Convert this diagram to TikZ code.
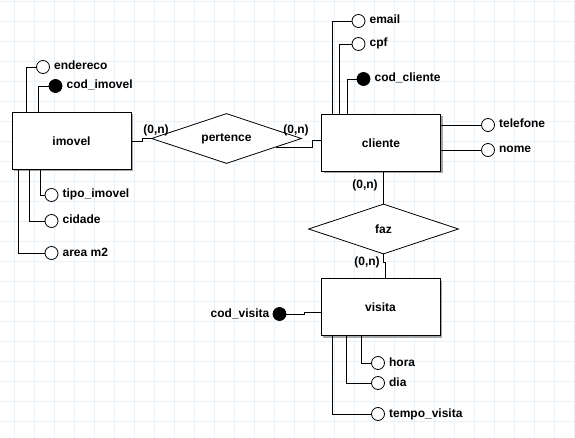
\documentclass[tikz,border=0pt]{standalone}
\usepackage{fontspec}
\setmainfont{Liberation Sans}
\usetikzlibrary{shapes.geometric,shadows,positioning}
\definecolor{gridblue}{RGB}{233,242,251}
\begin{document}
\begin{tikzpicture}[x=1pt,y=-1pt,
    every node/.style={font=\fontsize{12}{14}\selectfont\bfseries},
    entity/.style={rectangle,draw=black,line width=1pt,fill=white,minimum width=119pt,minimum height=57pt,
                   drop shadow={shadow xshift=2pt,shadow yshift=-2pt,fill=gray!70,opacity=1}},
    rel/.style={diamond,draw=black,line width=0.8pt,fill=white,aspect=3,inner sep=0pt,minimum width=150pt,minimum height=50pt},
    attr/.style={circle,draw=black,line width=0.8pt,fill=white,minimum size=13pt,inner sep=0pt},
    key/.style={attr,fill=black},
    attrtext/.style={inner sep=1pt,text height=8.5pt,text depth=2.5pt},
    card/.style={inner sep=1pt},
    link/.style={draw=black,line width=0.8pt}]
\useasboundingbox (0,0) rectangle (575,438);
\fill[white] (0,0) rectangle (575,438);
\foreach \gx in {14.5,34.5,...,574.5}
    \draw[gridblue,line width=1pt] (\gx,0) -- (\gx,438);
\foreach \gy in {1.5,21.5,...,421.5}
    \draw[gridblue,line width=1pt] (0,\gy) -- (575,\gy);
% entities and relations
\node[entity] (imovel)  at (71.5,141) {imovel};
\node[entity] (cliente) at (381,143)  {cliente};
\node[entity] (visita)  at (380.5,307) {visita};
\node[rel] (pertence) at (226.5,138.5) {pertence};
\node[rel] (faz)      at (383.5,229)   {faz};
% attributes of imovel
\node[attr] (a-endereco)   at (43,67)    {};
\node[key]  (a-codimovel)  at (55.5,86)  {};
\node[attr] (a-tipoimovel) at (51.5,195) {};
\node[attr] (a-cidade)     at (51.5,221) {};
\node[attr] (a-aream2)     at (51.5,253) {};
\node[attrtext,right=3pt of a-endereco]   (t-endereco)   {endereco};
\node[attrtext,right=3pt of a-codimovel]  (t-codimovel)  {cod\_imovel};
\node[attrtext,right=3pt of a-tipoimovel] (t-tipoimovel) {tipo\_imovel};
\node[attrtext,right=3pt of a-cidade]     (t-cidade)     {cidade};
\node[attrtext,right=3pt of a-aream2]     (t-aream2)     {area m2};
% attributes of cliente
\node[attr] (a-email)      at (358.5,21)  {};
\node[attr] (a-cpf)        at (358.5,44)  {};
\node[key]  (a-codcliente) at (363.5,79)  {};
\node[attr] (a-telefone)   at (488,125)   {};
\node[attr] (a-nome)       at (488,150)   {};
\node[attrtext,right=3pt of a-email]      (t-email)      {email};
\node[attrtext,right=3pt of a-cpf]        (t-cpf)        {cpf};
\node[attrtext,right=3pt of a-codcliente] (t-codcliente) {cod\_cliente};
\node[attrtext,right=3pt of a-telefone]   (t-telefone)   {telefone};
\node[attrtext,right=3pt of a-nome]       (t-nome)       {nome};
% attributes of visita
\node[key]  (a-codvisita)   at (279.5,314) {};
\node[attr] (a-hora)        at (378,363)   {};
\node[attr] (a-dia)         at (378,383)   {};
\node[attr] (a-tempovisita) at (378,414)   {};
\node[attrtext,left=2pt of a-codvisita]    (t-codvisita)   {cod\_visita};
\node[attrtext,right=3pt of a-hora]        (t-hora)        {hora};
\node[attrtext,right=3pt of a-dia]         (t-dia)         {dia};
\node[attrtext,right=3pt of a-tempovisita] (t-tempovisita) {tempo\_visita};
% relationship links
\draw[link] (imovel.east) -- ++(11,0) |- (pertence.west);
\draw[link] (pertence.-10) -- ++(36,0) |- ([yshift=3pt]cliente.west);
\draw[link] (cliente.south -| faz.north) -- (faz.north);
\draw[link] (faz.south) -- ++(0,8) -| ([xshift=5pt]visita.north);
\node[card] (c-imovel)  at (156,130) {(0,n)};
\node[card] (c-cliente) at (296,130) {(0,n)};
\node[card] (c-faz)     at (365,185) {(0,n)};
\node[card] (c-visita)  at (367,262) {(0,n)};
% attribute links
\draw[link] (a-endereco.west)  -| ([xshift=15pt]imovel.north west);
\draw[link] (a-codimovel.west) -| ([xshift=27pt]imovel.north west);
\draw[link] ([xshift=29pt]imovel.south west) |- (a-tipoimovel.west);
\draw[link] ([xshift=18pt]imovel.south west) |- (a-cidade.west);
\draw[link] ([xshift=7pt]imovel.south west)  |- (a-aream2.west);
\draw[link] (a-email.west)      -| ([xshift=11pt]cliente.north west);
\draw[link] (a-cpf.west)        -| ([xshift=18.5pt]cliente.north west);
\draw[link] (a-codcliente.west) -| ([xshift=26pt]cliente.north west);
\draw[link] (a-telefone.west) -- (a-telefone.west -| cliente.east);
\draw[link] (a-nome.west)     -- (a-nome.west -| cliente.east);
\draw[link] (a-codvisita.east) -- ++(18,0) |- ([yshift=-5pt]visita.west);
\draw[link] ([xshift=40.5pt]visita.south west) |- (a-hora.west);
\draw[link] ([xshift=26pt]visita.south west)   |- (a-dia.west);
\draw[link] ([xshift=11.5pt]visita.south west) |- (a-tempovisita.west);
\end{tikzpicture}
\end{document}
